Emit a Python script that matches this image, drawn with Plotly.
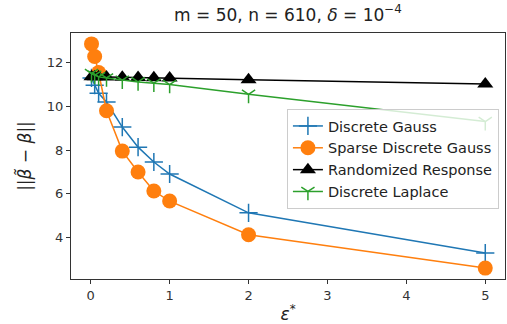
import plotly.graph_objects as go

eps = [0.01, 0.05, 0.1, 0.2, 0.4, 0.6, 0.8, 1, 2, 5]
discrete_gauss = [11.3, 10.97, 10.6, 10.2, 9.05, 8.13, 7.45, 6.9, 5.12, 3.28]
sparse_discrete_gauss = [12.86, 12.28, 11.55, 9.8, 7.95, 6.99, 6.12, 5.66, 4.12, 2.59]
randomized_response = [11.36, 11.35, 11.35, 11.34, 11.33, 11.32, 11.31, 11.3, 11.22, 11.02]
discrete_laplace = [11.5, 11.42, 11.35, 11.3, 11.2, 11.12, 11.06, 11.0, 10.55, 9.3]

fig = go.Figure()
fig.add_trace(go.Scatter(x=eps, y=discrete_gauss, name="Discrete Gauss", mode="lines+markers",
                         line=dict(color="#1f77b4", width=1.5),
                         marker=dict(symbol="cross-thin", size=13, line=dict(color="#1f77b4", width=1.5))))
fig.add_trace(go.Scatter(x=eps, y=sparse_discrete_gauss, name="Sparse Discrete Gauss", mode="lines+markers",
                         line=dict(color="#ff7f0e", width=1.5),
                         marker=dict(symbol="circle", size=15, color="#ff7f0e")))
fig.add_trace(go.Scatter(x=eps, y=randomized_response, name="Randomized Response", mode="lines+markers",
                         line=dict(color="black", width=1.5),
                         marker=dict(symbol="triangle-up", size=14, color="black")))
fig.add_trace(go.Scatter(x=eps, y=discrete_laplace, name="Discrete Laplace", mode="lines+markers",
                         line=dict(color="#2ca02c", width=1.5),
                         marker=dict(symbol="y-down", size=11, line=dict(color="#2ca02c", width=1.5))))

axis_common = dict(showline=True, linecolor="#333", linewidth=1, mirror=True, ticks="outside",
                   ticklen=4, tickcolor="#333", showgrid=False, zeroline=False,
                   tickfont=dict(size=13, color="#333"))
fig.update_layout(
    width=507, height=324,
    margin=dict(l=71, r=2, t=33, b=45),
    paper_bgcolor="white", plot_bgcolor="white",
    font=dict(family="DejaVu Sans", color="#222"),
    title=dict(text="m = 50, n = 610, <i>δ</i> = 10<sup>−4</sup>", x=0.568, xanchor="center",
               y=0.955, yanchor="middle", font=dict(size=17)),
    xaxis=dict(range=[-0.25, 5.25], tickvals=[0, 1, 2, 3, 4, 5],
               title=dict(text="<i>ε</i><sup>*</sup>", font=dict(size=17), standoff=8), **axis_common),
    yaxis=dict(range=[2.09, 13.36], tickvals=[4, 6, 8, 10, 12],
               title=dict(text="||<i>β̃</i> − <i>β</i>||", font=dict(size=17), standoff=10), **axis_common),
    legend=dict(x=0.986, y=0.691, xanchor="right", yanchor="top",
                bgcolor="rgba(255,255,255,0.8)", bordercolor="#ccc", borderwidth=1,
                font=dict(size=14.5, color="#222"), tracegroupgap=0),
    showlegend=True,
)
fig.write_html("out.html")
